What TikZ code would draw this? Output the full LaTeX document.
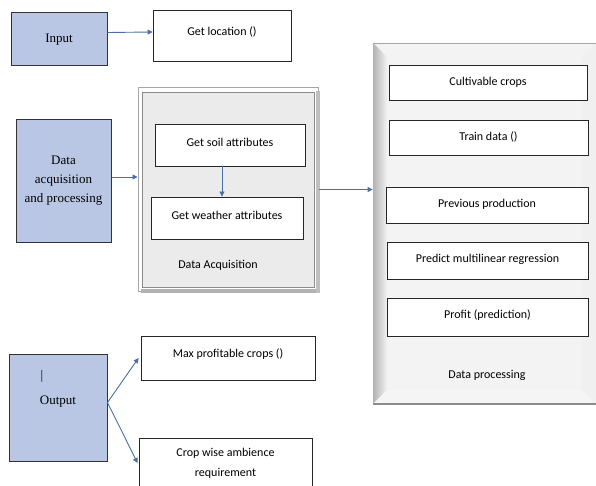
\documentclass[tikz,border=0pt]{standalone}
\usepackage{fontspec}
\setmainfont{Carlito}
\newfontfamily\tnr{Liberation Serif}
\usetikzlibrary{arrows.meta,calc}
\definecolor{boxblue}{RGB}{185,199,228}
\definecolor{arrblue}{RGB}{74,111,165}
\definecolor{panelfill}{RGB}{235,235,235}
\definecolor{panelfillb}{RGB}{243,243,243}
\tikzset{
  bluebox/.style={draw=black!80, line width=1pt, fill=boxblue, font=\tnr\fontsize{13}{19}\selectfont, align=center, inner sep=0pt},
  whitebox/.style={draw=black!85, line width=0.9pt, fill=white, font=\fontsize{12}{20}\selectfont, align=center, inner sep=0pt},
  arr/.style={draw=arrblue, line width=0.9pt, -{Triangle[width=5pt,length=5pt]}},
  lbl/.style={font=\fontsize{12}{14}\selectfont, inner sep=0pt},
}
\begin{document}
\begin{tikzpicture}[x=1pt,y=-1pt]
\useasboundingbox (0,0) rectangle (596,486);
\clip (0,0) rectangle (596,486);
% Data acquisition panel
\node[draw=black!35, line width=1pt, fill=white, minimum width=180pt, minimum height=203pt, inner sep=0pt] (panel1) at (228,189.5) {};
\fill[black!30] (141,289) rectangle (319,293);
\fill[black!25] (316,91) rectangle (320,293);
\draw[draw=black!45, line width=0.9pt, fill=panelfill] (142,92) rectangle (314,287);
% Data processing panel
\node[draw=black!30, line width=0.8pt, fill=panelfillb, minimum width=227pt, minimum height=361pt, inner sep=0pt] (panel2) at (486.5,223.5) {};
\shade[left color=black!30, right color=black!5] (373,43) -- (387,57) -- (387,390) -- (373,404) -- cycle;
\fill[black!4] (373,404) -- (387,390) -- (582,390) -- (596,404) -- cycle;
\fill[white!94!black] (582,57) -- (596,43) -- (596,404) -- (582,390) -- cycle;
\draw[black!45, line width=2pt] (373,404) -- (600,404);
\draw[black!35, line width=0.8pt] (373,43) -- (600,43);
% left column
\node[bluebox, minimum width=96pt, minimum height=53pt] (input) at (59,39.5) {Input};
\node[bluebox, minimum width=95pt, minimum height=122pt] (dap) at (63.5,181) {Data\\acquisition\\and processing};
\node[bluebox, minimum width=98pt, minimum height=107pt] (output) at (58,407.5) {};
\node[font=\tnr\fontsize{13}{15}\selectfont, inner sep=0pt] (bar) at (42,376) {|};
\node[font=\tnr\fontsize{13}{15}\selectfont, inner sep=0pt] (outlbl) at (58,402) {Output};
% top
\node[whitebox, minimum width=138pt, minimum height=51pt, text depth=8pt] (getloc) at (222,35.5) {Get location ()};
% acquisition
\node[whitebox, minimum width=150pt, minimum height=42pt, text depth=6pt] (soil) at (230,145) {Get soil attributes};
\node[whitebox, minimum width=152pt, minimum height=42pt, text depth=6pt] (weather) at (227,218) {Get weather attributes};
\node[lbl] (dacq) at (218,265) {Data Acquisition};
% processing
\node[whitebox, minimum width=198pt, minimum height=35pt, text depth=3pt] (cult) at (488,82.5) {Cultivable crops};
\node[whitebox, minimum width=199pt, minimum height=35pt, text depth=3pt] (train) at (488.5,137.5) {Train data ()};
\node[whitebox, minimum width=202pt, minimum height=36pt, text depth=4pt] (prev) at (487,205) {Previous production};
\node[whitebox, minimum width=201pt, minimum height=37pt, text depth=4pt] (pred) at (487.5,260.5) {Predict multilinear regression};
\node[whitebox, minimum width=201pt, minimum height=38pt, text depth=5pt] (profit) at (487.5,317) {Profit (prediction)};
\node[lbl] (dproc) at (487,375) {Data processing};
% outputs
\node[whitebox, minimum width=174pt, minimum height=44pt, text depth=9pt] (maxp) at (228,358) {Max profitable crops ()};
\node[whitebox, minimum width=173pt, minimum height=50pt, anchor=north, font=\fontsize{12}{20}\selectfont] (cropw) at (225.5,438) {Crop wise ambience\\requirement};
% arrows
\draw[arr] ([yshift=7pt]input.east) -- ([yshift=3.5pt]getloc.west);
\draw[arr] ([yshift=4pt]dap.east) -- ([yshift=4pt]dap.east -| panel1.west);
\draw[arr] ([xshift=-8pt]soil.south) -- ([xshift=-8pt]soil.south |- weather.north);
\draw[arr] (panel1.east) -- (panel1.east -| panel2.west);
\draw[arr] ([yshift=5pt]output.east) -- ([xshift=-2pt]maxp.west);
\draw[arr] ([yshift=5pt]output.east) -- ([xshift=-1pt,yshift=-25pt]cropw.north west);
\end{tikzpicture}
\end{document}
